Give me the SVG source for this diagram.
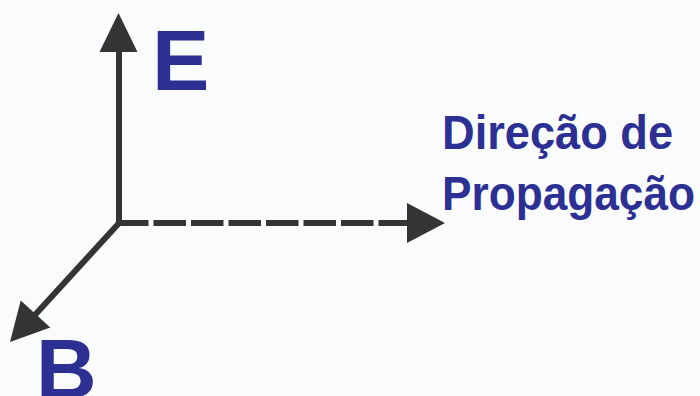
<svg xmlns="http://www.w3.org/2000/svg" width="700" height="396" viewBox="0 0 700 396">
  <style>
    .axis { stroke: #343434; stroke-width: 6; fill: none; stroke-linecap: butt; }
    .dash { stroke-dasharray: 32.5 5; }
    .head { fill: #343434; stroke: none; }
    .lbl { font-family: "Liberation Sans", Arial, sans-serif; font-weight: bold; fill: #2b3092; }
  </style>
  <rect x="0" y="0" width="700" height="396" fill="#fafbfd"/>
  <g id="connectors">
    <line class="axis" x1="119" y1="226" x2="119" y2="50"/>
    <polygon class="head" points="118.5,13 137.5,52 99.5,52"/>
    <line class="axis dash" x1="116" y1="223" x2="409" y2="223"/>
    <polygon class="head" points="445,223 407,203 407,243"/>
    <line class="axis" x1="120" y1="222" x2="34" y2="316"/>
    <polygon class="head" points="10,342 20.7,300.6 50.3,327.4"/>
  </g>
  <g id="node-E">
    <text class="lbl" x="152" y="90" font-size="86">E</text>
  </g>
  <g id="node-B">
    <text class="lbl" x="36" y="398" font-size="84">B</text>
  </g>
  <g id="node-propagacao">
    <text class="lbl" x="442" y="149" font-size="48" textLength="231" lengthAdjust="spacingAndGlyphs">Direção de</text>
    <text class="lbl" x="442" y="210" font-size="48" textLength="253" lengthAdjust="spacingAndGlyphs">Propagação</text>
  </g>
</svg>
